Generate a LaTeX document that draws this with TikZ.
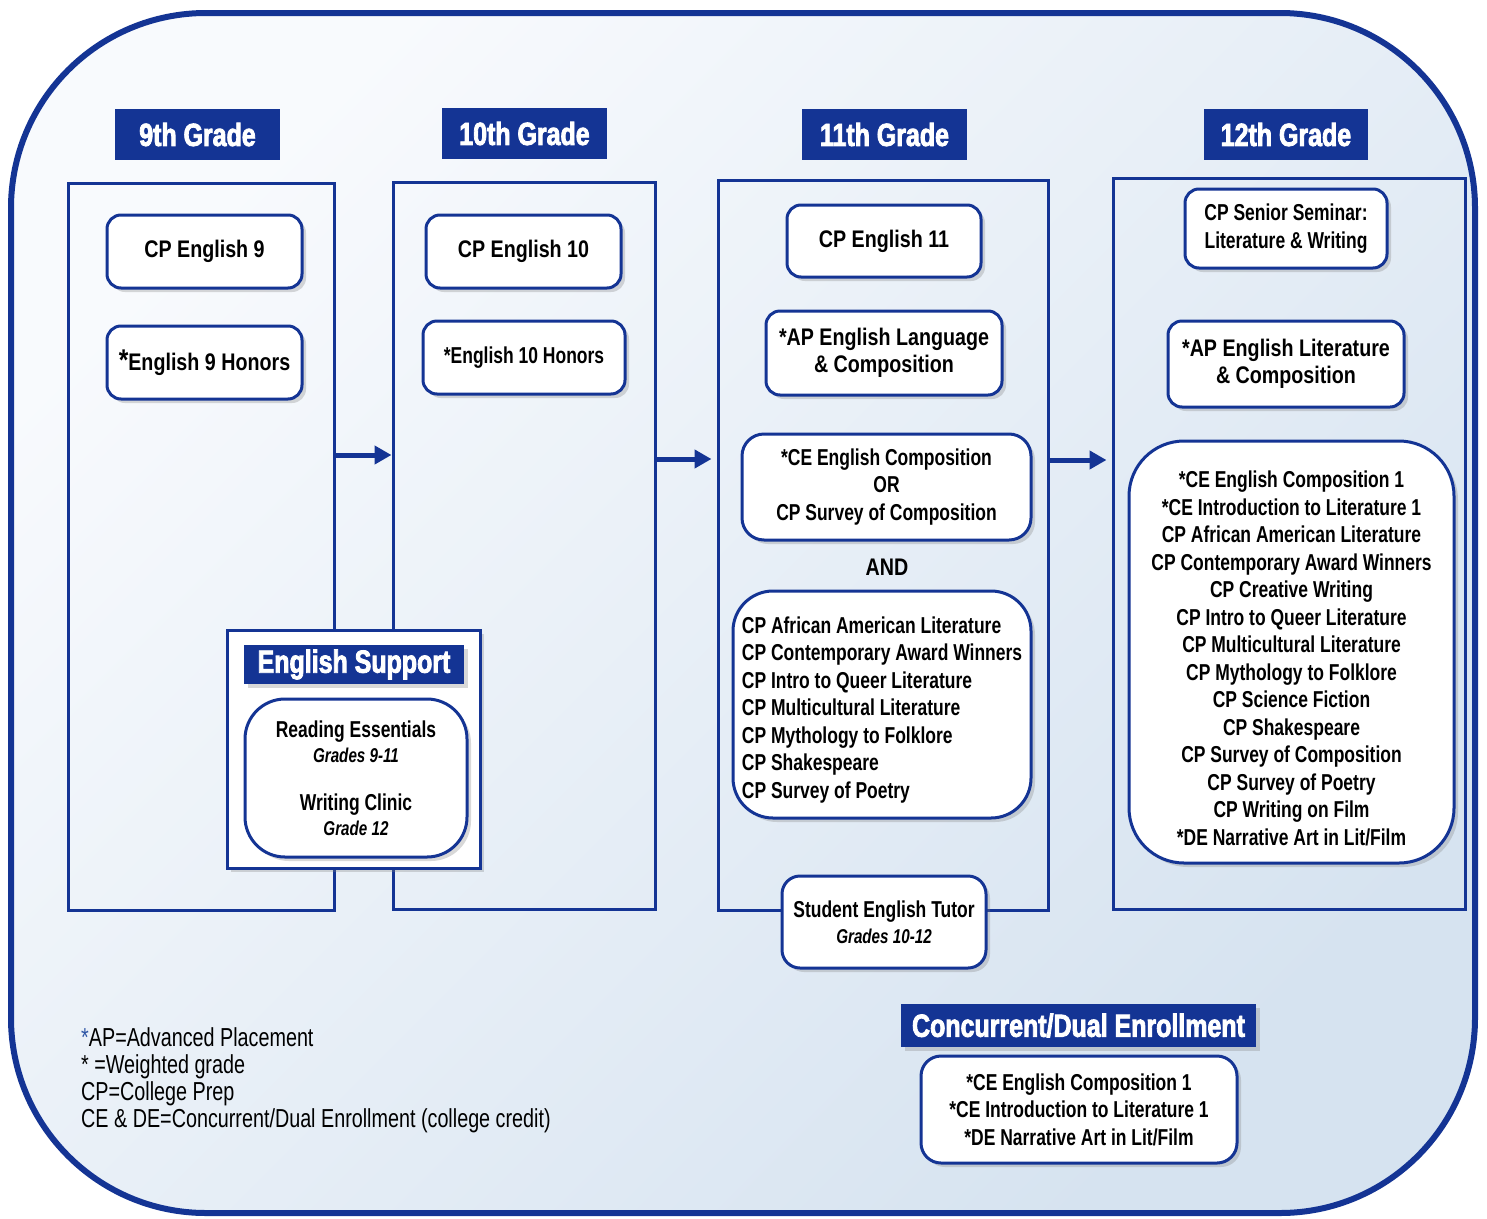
\documentclass[tikz,border=0pt]{standalone}
\usepackage{fontspec}
\setmainfont{Liberation Sans}
\newfontfamily\coursefont[FakeStretch=0.82]{Liberation Sans}
\newfontfamily\narrowfont[FakeStretch=0.76]{Liberation Sans}
\newfontfamily\headfont[FakeStretch=0.78,FakeBold=2.5]{Liberation Sans}
\newfontfamily\keyfont[FakeStretch=0.76]{Liberation Sans}
\usepackage{tikz}
\usetikzlibrary{arrows.meta}
\usetikzlibrary{shadows}
\usetikzlibrary{positioning}
\definecolor{navy}{RGB}{20,52,148}
\definecolor{keyblue}{RGB}{45,85,165}
\definecolor{bgtop}{RGB}{248,250,253}
\definecolor{bgbot}{RGB}{214,227,240}
\tikzset{
    gradehead/.style={fill=navy, text=white, inner sep=0pt, minimum width=165pt, minimum height=51pt,
        font=\headfont\bfseries\fontsize{32}{32}\selectfont},
    bandhead/.style={gradehead, drop shadow={opacity=0.3, shadow xshift=4pt, shadow yshift=-4pt}},
    column/.style={draw=navy, line width=3pt, inner sep=0pt},
    course/.style={draw=navy, fill=white, line width=3pt, rounded corners=14pt, align=center, inner sep=0pt,
        drop shadow={opacity=0.3, shadow xshift=4pt, shadow yshift=-4pt},
        font=\coursefont\bfseries\fontsize{24}{27.5}\selectfont},
    narrowcourse/.style={course, font=\narrowfont\bfseries\fontsize{23}{27.5}\selectfont},
    flow/.style={draw=navy, line width=5pt, -{Triangle[length=17pt,width=18pt]}},
    keytext/.style={align=left, inner sep=0pt, font=\keyfont\fontsize{26}{27}\selectfont},
}
\newcommand{\gradeline}[1]{{\itshape\fontsize{20}{24}\selectfont #1}}
\begin{document}
\begin{tikzpicture}[x=1pt, y=-1pt]
	\useasboundingbox (0,0) rectangle (1487,1218);
	\draw[navy, line width=6pt, rounded corners=195pt, top color=bgtop, bottom color=bgbot, shading angle=45]
		(11,13) rectangle (1475,1213);
%
	\node[gradehead] (head9) at (197.5,134.5) {9th Grade};
	\node[gradehead] (head10) at (524.5,133.5) {10th Grade};
	\node[gradehead] (head11) at (884.5,134.5) {11th Grade};
	\node[gradehead, minimum width=164pt] (head12) at (1286,134.5) {12th Grade};
%
	\node[column, minimum width=266pt, minimum height=727pt] (col9) at (201,546.5) {};
	\node[column, minimum width=262pt, minimum height=727pt] (col10) at (524,545.5) {};
	\node[column, minimum width=330pt, minimum height=730pt] (col11) at (883,545) {};
	\node[column, minimum width=352pt, minimum height=731pt] (col12) at (1289,543.5) {};
%
	\draw[flow] (col9.east |- 0,455) -- (col10.west |- 0,455);
	\draw[flow, shorten >=5pt] (col10.east |- 0,459) -- (col11.west |- 0,459);
	\draw[flow, shorten >=5pt] (col11.east |- 0,460) -- (col12.west |- 0,460);
%
	\node[course, minimum width=195pt, minimum height=73pt] (eng9) at (204.5,251.5) {CP English 9};
	\node[course, minimum width=195pt, minimum height=73pt] (hon9) at (204.5,362.5)
		{{\fontsize{30}{27}\selectfont*}English 9 Honors};
%
	\node[course, minimum width=195pt, minimum height=73pt] (eng10) at (523.5,251.5) {CP English 10};
	\node[narrowcourse, minimum width=202pt, minimum height=73pt] (hon10) at (524,357.5) {*English 10 Honors};
%
	\node[course, minimum width=194pt, minimum height=72pt] (eng11) at (884,241) {CP English 11};
	\node[course, minimum width=236pt, minimum height=84pt] (aplang) at (884,353)
		{*AP English Language\\\& Composition};
	\node[narrowcourse, minimum width=289pt, minimum height=106pt, rounded corners=22pt] (comp11) at (886.5,487)
		{*CE English Composition\\OR\\CP Survey of Composition};
	\node[font=\coursefont\bfseries\fontsize{24}{27.5}\selectfont] (and11) at (887,567) {AND};
	\node[narrowcourse, align=left, minimum width=298pt, minimum height=227pt, rounded corners=40pt] (list11) at (882,704.5)
		{\rule{0pt}{27pt}CP African American Literature\\CP Contemporary Award Winners\\CP Intro to Queer Literature\\
		 CP Multicultural Literature\\CP Mythology to Folklore\\CP Shakespeare\\CP Survey of Poetry};
	\node[narrowcourse, minimum width=204pt, minimum height=92pt, rounded corners=18pt,
		font=\narrowfont\bfseries\fontsize{23}{26}\selectfont] (tutor) at (884,922)
		{Student English Tutor\\\gradeline{Grades 10-12}};
%
	\node[narrowcourse, minimum width=202pt, minimum height=79pt] (senior) at (1286,228.5)
		{CP Senior Seminar:\\Literature \& Writing};
	\node[course, minimum width=236pt, minimum height=86pt] (aplit) at (1286,364)
		{*AP English Literature\\\& Composition};
	\node[narrowcourse, minimum width=325pt, minimum height=422pt, rounded corners=55pt] (list12) at (1291.5,652)
		{\rule{0pt}{29pt}*CE English Composition 1\\*CE Introduction to Literature 1\\CP African American Literature\\
		 CP Contemporary Award Winners\\CP Creative Writing\\CP Intro to Queer Literature\\
		 CP Multicultural Literature\\CP Mythology to Folklore\\CP Science Fiction\\CP Shakespeare\\
		 CP Survey of Composition\\CP Survey of Poetry\\CP Writing on Film\\*DE Narrative Art in Lit/Film};
%
	\node[draw=navy, fill=white, line width=3pt, minimum width=253pt, minimum height=238pt, inner sep=0pt,
		drop shadow={opacity=0.3, shadow xshift=4pt, shadow yshift=-4pt}] (support) at (353.5,749) {};
	\node[bandhead, minimum width=220pt, minimum height=39pt] (supporthead) at (354,664.5) {English Support};
	\node[narrowcourse, minimum width=222pt, minimum height=158pt, rounded corners=40pt,
		font=\narrowfont\bfseries\fontsize{23}{25}\selectfont] (supportbox) at (356,778)
		{Reading Essentials\\\gradeline{Grades 9-11}\\[23pt]
		 Writing Clinic\\\gradeline{Grade 12}};
%
	\node[bandhead, minimum width=355pt, minimum height=43pt] (dualhead) at (1078.5,1025.5) {Concurrent/Dual Enrollment};
	\node[narrowcourse, minimum width=316pt, minimum height=107pt, rounded corners=20pt] (dualbox) at (1079,1109.5)
		{*CE English Composition 1\\*CE Introduction to Literature 1\\*DE Narrative Art in Lit/Film};
%
	\node[keytext, anchor=west] (key) at (81,1080)
		{{\color{keyblue}*}AP=Advanced Placement\\* =Weighted grade\\CP=College Prep\\
		 CE \& DE=Concurrent/Dual Enrollment (college credit)};
\end{tikzpicture}
\end{document}
